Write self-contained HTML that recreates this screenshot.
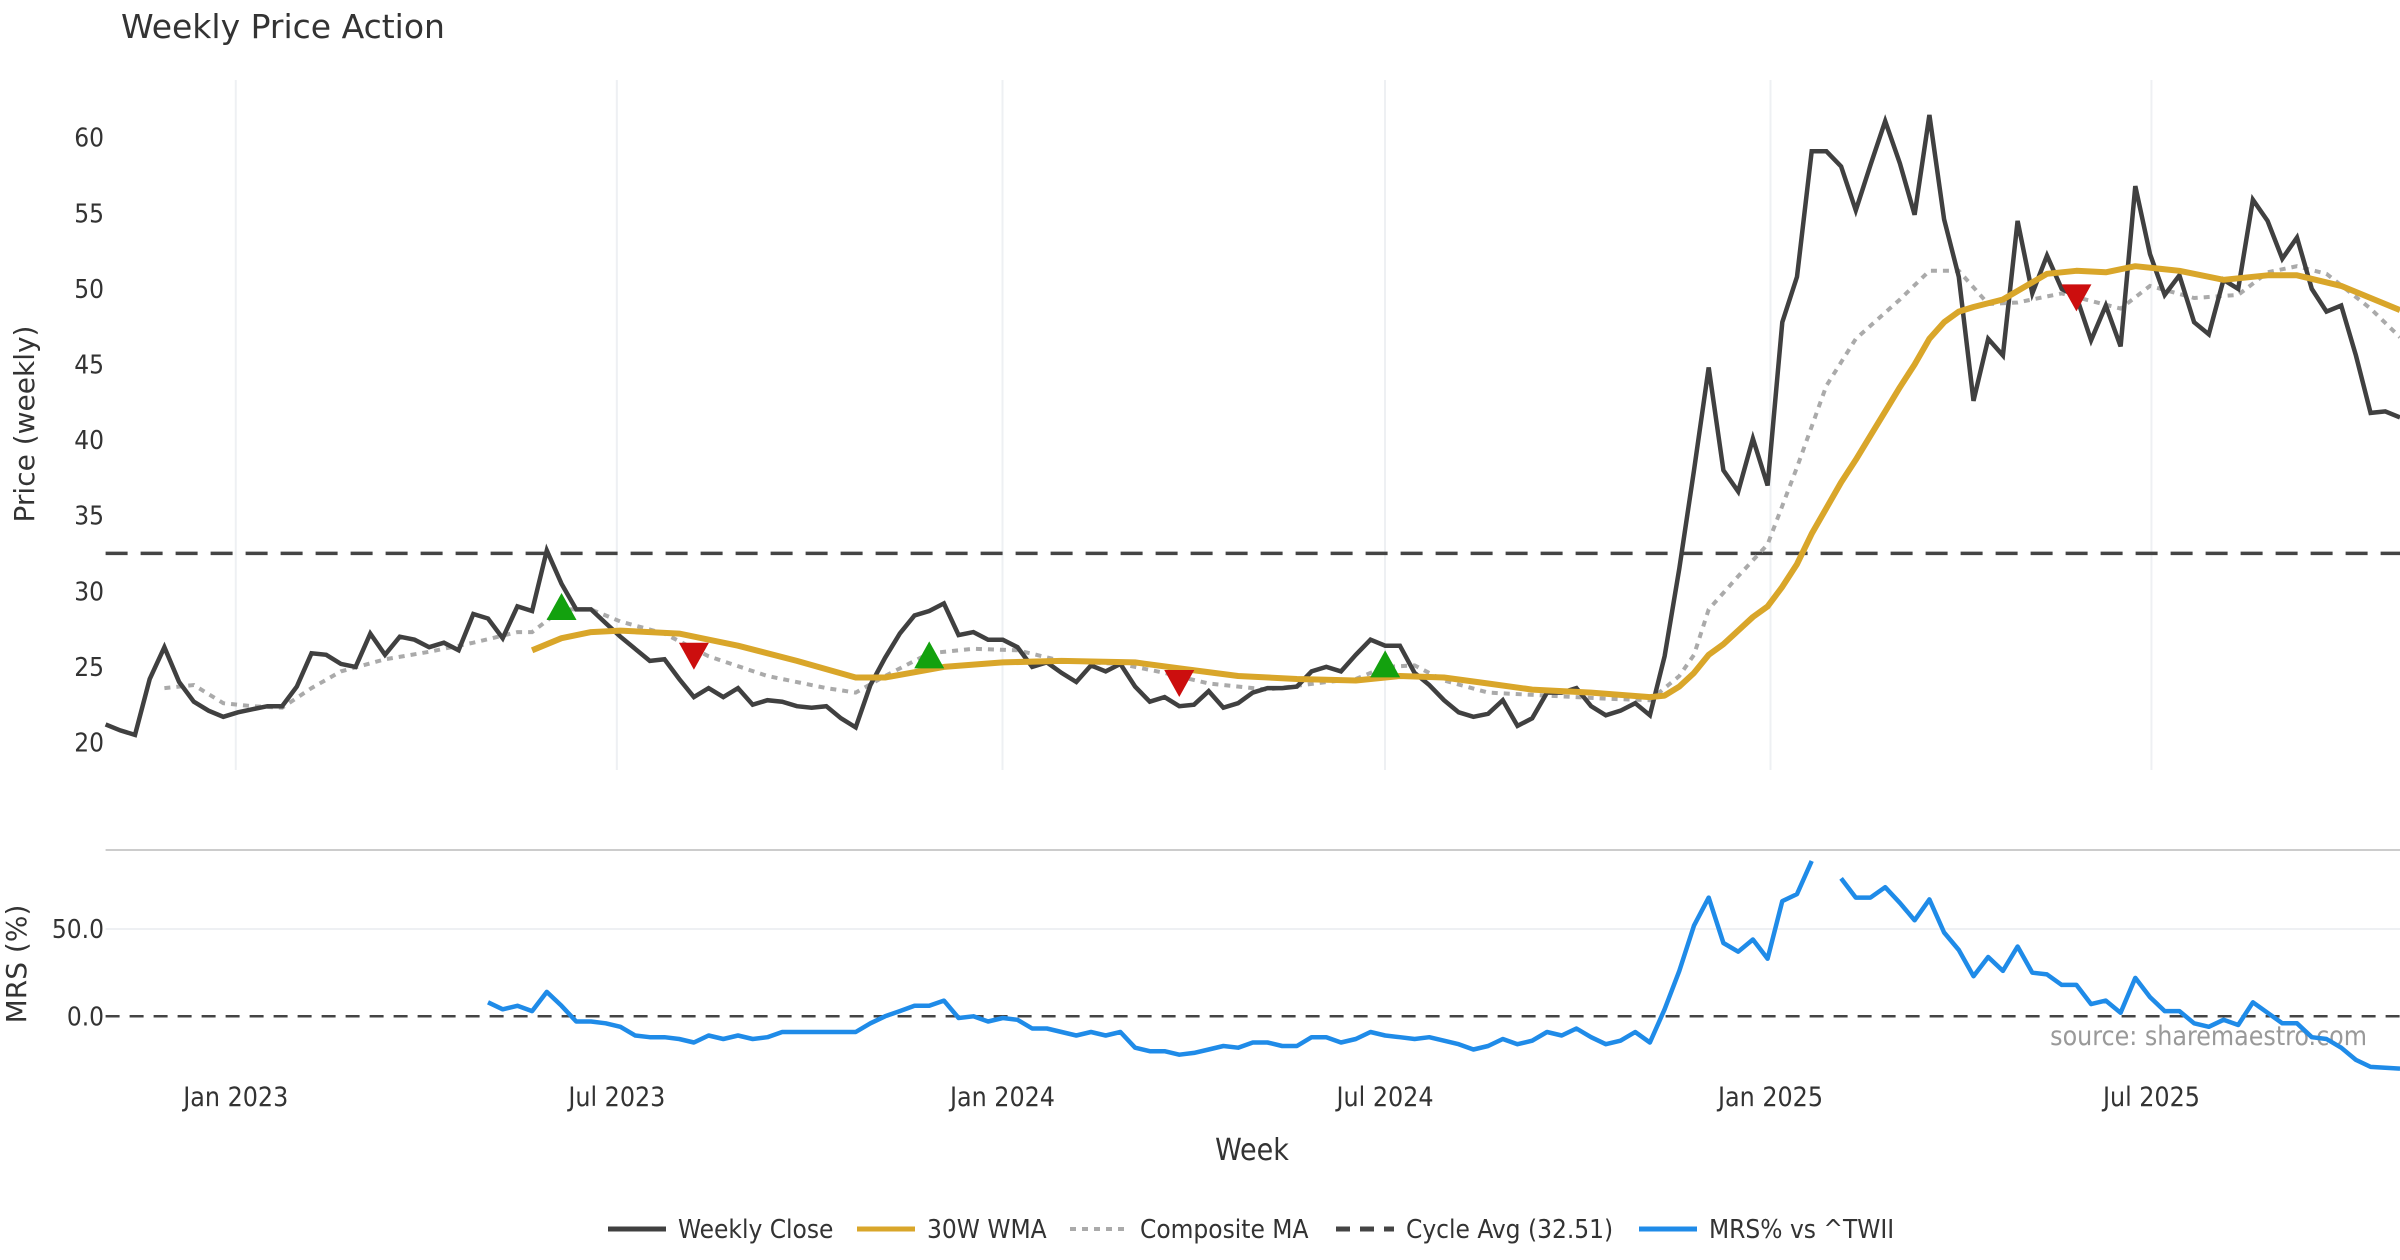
<!DOCTYPE html>
<html><head><meta charset="utf-8"><style>
html,body{margin:0;padding:0;background:#fff;}
svg{display:block;font-family:"DejaVu Sans Condensed","DejaVu Sans","Liberation Sans",sans-serif;}
</style></head><body>
<svg id="chart" width="2400" height="1260" viewBox="0 0 2400 1260" xmlns="http://www.w3.org/2000/svg">
<text x="121" y="38" font-size="33" fill="#333" font-family="DejaVu Sans, sans-serif">Weekly Price Action</text>
<text transform="translate(34,424) rotate(-90)" text-anchor="middle" font-size="28" fill="#333" font-family="DejaVu Sans, sans-serif">Price (weekly)</text>
<text transform="translate(26,964) rotate(-90)" text-anchor="middle" font-size="28" fill="#333" font-family="DejaVu Sans, sans-serif">MRS (%)</text>
<text x="1252" y="1160" text-anchor="middle" font-size="30" fill="#333">Week</text>
<text x="2367" y="1045" text-anchor="end" font-size="26.5" fill="#999">source: sharemaestro.com</text>
<g id="grid"></g><g id="series"></g><g id="legend"></g>
</svg>
<script>
const closeVals=[21.2,20.8,20.5,24.2,26.3,24,22.7,22.1,21.7,22,
22.2,22.4,22.4,23.7,25.9,25.8,25.2,25,27.2,25.8,
27,26.8,26.3,26.6,26.1,28.5,28.2,26.9,29,28.7,
32.7,30.5,28.8,28.8,27.9,27,26.2,25.4,25.5,24.2,
23,23.6,23,23.6,22.5,22.8,22.7,22.4,22.3,22.4,
21.6,21,23.8,25.6,27.2,28.4,28.7,29.2,27.1,27.3,
26.8,26.8,26.3,25,25.3,24.6,24,25.1,24.7,25.2,
23.7,22.7,23,22.4,22.5,23.4,22.3,22.6,23.3,23.6,
23.6,23.7,24.7,25,24.7,25.8,26.8,26.4,26.4,24.6,
23.8,22.8,22,21.7,21.9,22.8,21.1,21.6,23.3,23.3,
23.6,22.4,21.8,22.1,22.6,21.8,25.7,31.5,38,44.8,
38,36.6,40.1,37,47.8,50.8,59.1,59.1,58.1,55.2,
58.2,61.1,58.3,54.9,61.5,54.6,50.8,42.6,46.7,45.6,
54.5,49.7,52.2,50,49.5,46.6,48.9,46.2,56.8,52.3,
49.6,50.9,47.8,47,50.6,50,55.9,54.5,52,53.4,
50,48.5,48.9,45.6,41.8,41.9,41.5];
const wmaWeeks=[29,31,33,35,39,43,47,51,53,57,61,65,70,73,77,81,85,88,91,94,97,101,105,106,107,108,109,110,111,112,113,114,115,116,117,118,119,120,121,122,123,124,125,126,127,129,132,134,136,138,141,144,147,149,152,154,156];
const wmaVals=[26.1,26.9,27.3,27.4,27.2,26.4,25.4,24.3,24.3,25,25.3,25.4,25.3,24.9,24.4,24.2,24.1,24.4,24.3,23.9,23.5,23.3,23,23.1,23.7,24.6,25.8,26.5,27.4,28.3,29,30.3,31.8,33.8,35.5,37.2,38.7,40.3,41.9,43.5,45,46.7,47.8,48.5,48.8,49.3,51,51.2,51.1,51.5,51.2,50.6,50.9,50.9,50.2,49.4,48.6];
const compWeeks=[4,6,8,10,12,14,16,19,22,25,28,29,31,33,35,38,41,45,49,51,53,56,59,62,65,69,72,75,79,83,85,87,89,91,94,98,102,105,107,108,109,111,113,115,117,119,122,124,126,128,130,133,137,139,142,145,147,149,151,154,156];
const compVals=[23.6,23.8,22.6,22.4,22.3,23.6,24.7,25.5,26,26.6,27.3,27.3,28.8,28.8,28,27.2,25.7,24.4,23.6,23.3,24.4,25.9,26.2,26.1,25.4,25.2,24.6,23.9,23.5,24,24.2,25,25.1,24.1,23.3,23.1,22.9,22.8,24.4,25.8,28.8,31,33.1,38.2,43.6,46.7,49.3,51.2,51.2,49,49.1,49.7,48.7,50.2,49.4,49.6,51.1,51.5,51,48.7,46.8];
const cycleAvg=32.51;
const buyWeeks=[31,56,87];
const buyVals=[28.7,25.5,24.9];
const sellWeeks=[40,73,134];
const sellVals=[26,24.2,49.7];
const mrsStart=26;
const mrsVals=[8,4,6,3,14,6,-3,-3,-4,-6,
-11,-12,-12,-13,-15,-11,-13,-11,-13,-12,
-9,-9,-9,-9,-9,-9,-4,0,3,6,
6,9,-1,0,-3,-1,-2,-7,-7,-9,
-11,-9,-11,-9,-18,-20,-20,-22,-21,-19,
-17,-18,-15,-15,-17,-17,-12,-12,-15,-13,
-9,-11,-12,-13,-12,-14,-16,-19,-17,-13,
-16,-14,-9,-11,-7,-12,-16,-14,-9,-15,
4,26,52,68,42,37,44,33,66,70,
89,null,
79,68,68,74,65,55,67,48,38,23,
34,26,40,25,24,18,18,7,9,2,
22,11,3,3,-4,-6,-2,-5,8,2,
-4,-4,-12,-13,-18,-25,-29,-29.5,-30];
const tickWeeks=[8.85,34.76,60.98,86.99,113.2,139.1];
const tickLabels=["Jan 2023","Jul 2023","Jan 2024","Jul 2024","Jan 2025","Jul 2025"];
const priceTicks=[20,25,30,35,40,45,50,55,60];
const mrsTicks=[0,50];
const mrsTickLabels=["0.0","50.0"];

const NS="http://www.w3.org/2000/svg";
const X0=105.6,X1=2400,NW=closeVals.length-1;
const xs=w=>X0+w*(X1-X0)/NW;
const yP=v=>742.5-(v-20)*15.12;
const yM=v=>1016.3-v*1.745;
function mk(tag,attrs,parent){const e=document.createElementNS(NS,tag);for(const k in attrs)e.setAttribute(k,attrs[k]);parent.appendChild(e);return e;}
const grid=document.getElementById('grid'),ser=document.getElementById('series'),leg=document.getElementById('legend');

tickWeeks.forEach((w,i)=>{
 const l=mk('line',{x1:xs(w),x2:xs(w),y1:80,y2:770,stroke:'#eef0f3','stroke-width':2},grid);
 
 const t=mk('text',{x:xs(w),y:1106,'text-anchor':'middle','font-size':26.5,fill:'#333'},grid);
 
 t.textContent=tickLabels[i];
});
priceTicks.forEach(v=>{
 const t=mk('text',{x:104,y:yP(v)+9,'text-anchor':'end','font-size':26,fill:'#333'},grid);
 
 t.textContent=v;
});
const sp=mk('line',{x1:X0,x2:X1,y1:850,y2:850,stroke:'#ccc','stroke-width':2},grid);

mrsTicks.forEach((v,i)=>{
 if(v!==0){const g=mk('line',{x1:X0,x2:X1,y1:yM(v),y2:yM(v),stroke:'#eef0f3','stroke-width':2},grid);
 }
 const t=mk('text',{x:104,y:yM(v)+9,'text-anchor':'end','font-size':26,fill:'#333'},grid);
 
 t.textContent=mrsTickLabels[i];
});
const z=mk('line',{x1:X0,x2:X1,y1:yM(0),y2:yM(0),stroke:'#444','stroke-width':2.5,'stroke-dasharray':'14,10'},grid);


const ca=mk('line',{x1:X0,x2:X1,y1:yP(cycleAvg),y2:yP(cycleAvg),stroke:'#444','stroke-width':3.5,'stroke-dasharray':'22,13'},ser);


function path(ws,vs,yf){let d='',pen=false;vs.forEach((v,i)=>{if(v===null){pen=false;return;}d+=(pen?'L':'M')+xs(ws[i]).toFixed(1)+','+yf(v).toFixed(1);pen=true;});return d;}
const cw=mk('path',{d:path(compWeeks,compVals,yP),fill:'none',stroke:'#aaa','stroke-width':4,'stroke-dasharray':'6,6'},ser);

const cl=mk('path',{d:path(closeVals.map((_,i)=>i),closeVals,yP),fill:'none',stroke:'#404040','stroke-width':4.5,'stroke-linejoin':'miter'},ser);

const wm=mk('path',{d:path(wmaWeeks,wmaVals,yP),fill:'none',stroke:'#d9a62a','stroke-width':6,'stroke-linejoin':'round'},ser);

buyWeeks.forEach((w,i)=>{const x=xs(w),y=yP(buyVals[i]);
 const p=mk('polygon',{points:`${x-15},${y+9} ${x+15},${y+9} ${x},${y-18}`,fill:'#13a10e'},ser);
 });
sellWeeks.forEach((w,i)=>{const x=xs(w),y=yP(sellVals[i]);
 const p=mk('polygon',{points:`${x-15},${y-9} ${x+15},${y-9} ${x},${y+18}`,fill:'#cc0e0e'},ser);
 });
const mr=mk('path',{d:path(mrsVals.map((_,i)=>mrsStart+i),mrsVals,yM),fill:'none',stroke:'#1f8be8','stroke-width':4.5,'stroke-linejoin':'round'},ser);


const legItems=[["Weekly Close","#404040",null,608],["30W WMA","#d9a62a",null,857],["Composite MA","#aaa","6,6",1070],["Cycle Avg (32.51)","#444","14,10",1336],["MRS% vs ^TWII","#1f8be8",null,1639]];
const legNames=['legend-weekly-close','legend-30w-wma','legend-composite-ma','legend-cycle-avg','legend-mrs'];
legItems.forEach((it,i)=>{
 const g=mk('g',{},leg);
 
 const a={x1:it[3],x2:it[3]+58,y1:1229,y2:1229,stroke:it[1],'stroke-width':it[2]==='6,6'?4:5};
 if(it[2])a['stroke-dasharray']=it[2];
 mk('line',a,g);
 const t=mk('text',{x:it[3]+70,y:1238,'font-size':26,fill:'#333'},g);
 t.textContent=it[0];
});
</script>
</body></html>
